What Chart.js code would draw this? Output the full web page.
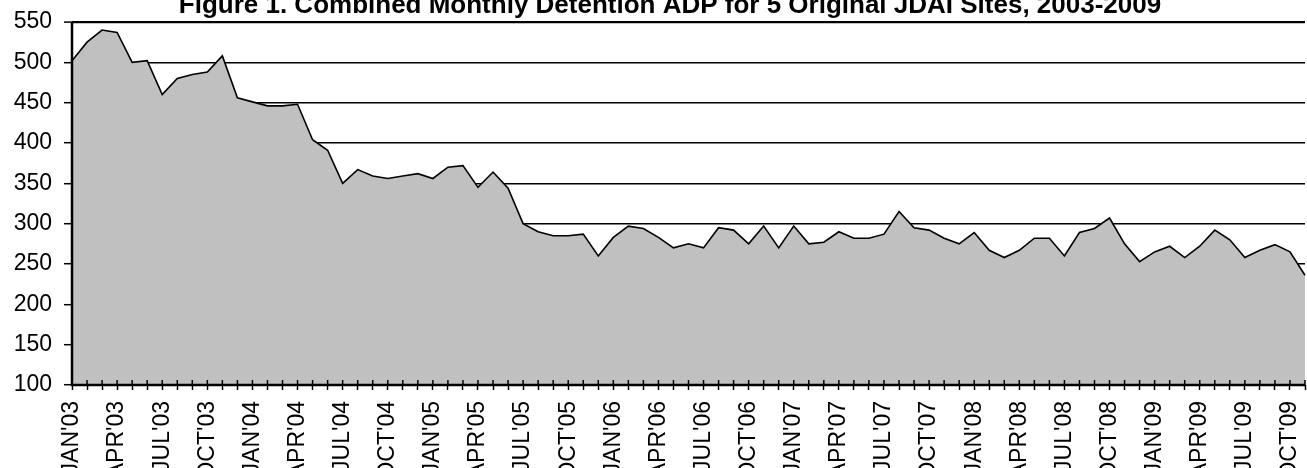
<!DOCTYPE html>
<html>
<head>
<meta charset="utf-8">
<title>Combined Monthly Detention ADP</title>
<script src="https://cdn.jsdelivr.net/npm/chart.js@4/dist/chart.umd.min.js"></script>
<style>
  html, body { margin: 0; padding: 0; background: #fff; overflow: hidden; }
  #wrap { position: relative; width: 1307px; height: 468px; }
</style>
</head>
<body>
<div id="wrap"><canvas id="adpChart"></canvas></div>
<script>
// Monthly categories, Jan 2003 - Nov 2009
const monthNames = ['JAN', 'FEB', 'MAR', 'APR', 'MAY', 'JUN', 'JUL', 'AUG', 'SEP', 'OCT', 'NOV', 'DEC'];
const years = ['03', '04', '05', '06', '07', '08', '09'];

// Combined ADP, one value per month
const adpValues = [
    502, 525, 540, 537, 500, 502, 460, 480, 485, 488, 508, 456,
    451, 446, 446, 448, 404, 391, 350, 367, 359, 356, 359, 362,
    356, 370, 372, 345, 364, 344, 300, 290, 285, 285, 287, 260,
    283, 297, 294, 283, 270, 275, 270, 295, 292, 275, 297, 270,
    297, 275, 277, 290, 282, 282, 287, 315, 295, 292, 282, 275,
    289, 267, 258, 267, 282, 282, 260, 289, 294, 307, 275, 253,
    265, 272, 258, 272, 292, 280, 258, 267, 274, 265, 236
];

const yMin = 100;
const yMax = 550;
const yStep = 50;

const titleText = 'Figure 1. Combined Monthly Detention ADP for 5 Original JDAI Sites, 2003-2009';

const monthLabels = [];
years.forEach(yr => monthNames.forEach(m => monthLabels.push(m + "'" + yr)));
monthLabels.length = adpValues.length;

const FONT = "'Liberation Sans', Arial, Helvetica, sans-serif";

// axis lines and the inner half of the x tick marks go on top of the grey area
const axisLines = {
    id: 'axisLines',
    afterDatasetsDraw(chart) {
        const { ctx, chartArea, scales } = chart;
        ctx.save();
        ctx.strokeStyle = '#000';
        ctx.lineWidth = 1.5;
        scales.x.ticks.forEach((t, i) => {
            const px = scales.x.getPixelForTick(i);
            ctx.beginPath();
            ctx.moveTo(px, chartArea.bottom - 5);
            ctx.lineTo(px, chartArea.bottom);
            ctx.stroke();
        });
        ctx.lineWidth = 2.5;
        ctx.beginPath();
        ctx.moveTo(chartArea.left, chartArea.top);
        ctx.lineTo(chartArea.left, chartArea.bottom);
        ctx.lineTo(chartArea.right, chartArea.bottom);
        ctx.stroke();
        ctx.restore();
    }
};

// the title sits partly above the top edge, as in the original
const chartTitle = {
    id: 'chartTitle',
    afterDraw(chart) {
        const ctx = chart.ctx;
        ctx.save();
        ctx.font = 'bold 26px ' + FONT;
        ctx.fillStyle = '#000';
        ctx.textAlign = 'center';
        ctx.textBaseline = 'alphabetic';
        ctx.fillText(titleText, 670, 13);
        ctx.restore();
    }
};

new Chart(document.getElementById('adpChart'), {
    type: 'line',
    data: {
        labels: monthLabels,
        datasets: [{
            data: adpValues,
            borderColor: '#000',
            borderWidth: 1.6,
            backgroundColor: '#c0c0c0',
            fill: 'start',
            pointRadius: 0,
            tension: 0
        }]
    },
    options: {
        responsive: true,
        maintainAspectRatio: false,
        animation: false,
        devicePixelRatio: 1,
        layout: { padding: { left: 0, right: 2, top: 22, bottom: 0 } },
        plugins: {
            legend: { display: false },
            tooltip: { enabled: false },
            title: { display: false }
        },
        scales: {
            x: {
                border: { display: false },
                grid: {
                    display: true,
                    drawOnChartArea: false,
                    color: '#000',
                    tickLength: 5,
                    tickWidth: 1.5
                },
                ticks: {
                    autoSkip: false,
                    minRotation: 90,
                    maxRotation: 90,
                    padding: 11,
                    color: '#000',
                    font: { family: FONT, size: 23 },
                    callback: (value, i) => (i % 3 === 0 ? monthLabels[i] : '')
                },
                afterFit(scale) {
                    scale.height = 83;
                    scale.paddingLeft = 0;
                    scale.paddingRight = 0;
                }
            },
            y: {
                min: yMin,
                max: yMax,
                border: { display: false },
                grid: {
                    color: '#000',
                    lineWidth: ctx => (ctx.tick && ctx.tick.value === yMax ? 2.2 : 1.4),
                    tickLength: 8,
                    tickWidth: 1.5
                },
                ticks: {
                    stepSize: yStep,
                    padding: 12,
                    color: '#000',
                    font: { family: FONT, size: 23 }
                },
                afterFit(scale) {
                    scale.width = 72;
                    scale.paddingTop = 0;
                }
            }
        }
    },
    plugins: [axisLines, chartTitle]
});
</script>
</body>
</html>
